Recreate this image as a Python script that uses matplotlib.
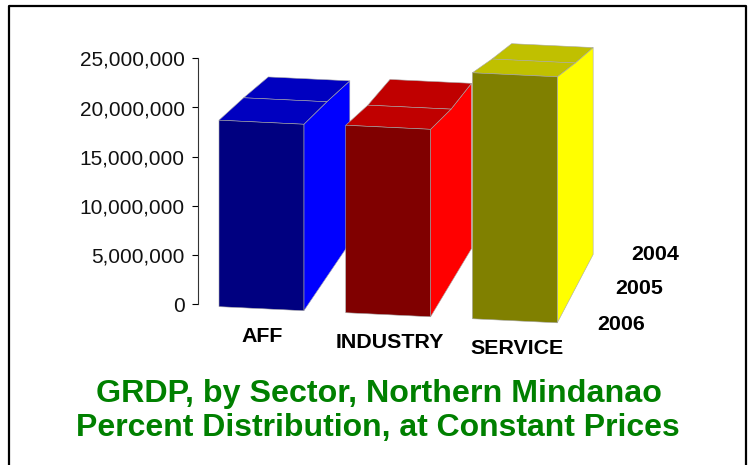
#!/usr/bin/env python3
import matplotlib
matplotlib.use('Agg')
import matplotlib.pyplot as plt
from matplotlib.lines import Line2D
from matplotlib.patches import Polygon
from matplotlib.ticker import FuncFormatter

plt.rcParams['font.family'] = ['Liberation Sans', 'DejaVu Sans']

# values in millions
sectors = ['AFF', 'INDUSTRY', 'SERVICE']
years = ['2004', '2005', '2006']
grdp_2004 = [17.15, 17.5, 21.9]
grdp_2005 = [18.15, 18.0, 23.4]
grdp_2006 = [18.95, 19.05, 25.0]
yticks = [0, 5, 10, 15, 20, 25]

front_colors = ['#000080', '#800000', '#808000']
side_colors = ['#0000ff', '#ff0000', '#ffff00']
top_colors = ['#0000c0', '#c00000', '#c0c000']
EDGE = '#a8a8a8'

W, H = 752, 465
BAR_W = 0.67
# depth goes toward a vanishing point, in axis units
VP_X, VP_V = 9.8, 173.0
SHRINK = 0.0397


def base(x):
    # the front row's floor runs slightly downhill to the right
    return -0.24 - 0.615 * x


def project(x, value, depth):
    f = SHRINK * depth
    y = base(x) + value
    return x + (VP_X - x) * f, y + (VP_V - y) * f


def add_face(ax, pts, color):
    ax.add_patch(Polygon(pts, closed=True, facecolor=color, edgecolor=EDGE,
                         linewidth=0.4, joinstyle='round', clip_on=False))


def draw_bar(ax, i):
    x0, x1 = i, i + BAR_W
    depths = [0, 0.5, 1]
    vals = [grdp_2006[i], grdp_2005[i], grdp_2004[i]]

    # side first, top next, front last
    side = [project(x1, 0, 0)]
    side += [project(x1, v, d) for v, d in zip(vals, depths)]
    side.append(project(x1, 0, 1))
    add_face(ax, side, side_colors[i])

    for k in [1, 0]:
        add_face(ax, [project(x0, vals[k], depths[k]), project(x1, vals[k], depths[k]),
                      project(x1, vals[k + 1], depths[k + 1]), project(x0, vals[k + 1], depths[k + 1])],
                 top_colors[i])

    add_face(ax, [project(x0, 0, 0), project(x1, 0, 0),
                  project(x1, vals[0], 0), project(x0, vals[0], 0)], front_colors[i])


def px_text(fig, x, y, s, **kw):
    fig.text(x / W, 1 - y / H, s, ha='center', va='center', **kw)


def main():
    fig = plt.figure(figsize=(W / 100, H / 100), dpi=100, facecolor='white')

    # axes: left spine is the value axis, x unit is one bar pitch (126.7 px)
    left, right, top, bottom = 198, 198 + 3 * 126.7, 58.3, 304.3
    ax = fig.add_axes([left / W, 1 - bottom / H, (right - left) / W, (bottom - top) / H])
    ax.set_facecolor('none')
    ax.set_xlim(-21 / 126.7, 3 - 21 / 126.7)
    ax.set_ylim(0, 25)
    ax.set_xticks([])
    ax.set_yticks(yticks)
    ax.yaxis.set_major_formatter(FuncFormatter(lambda v, _: f'{int(v * 1000000):,}'))
    ax.tick_params(axis='y', labelsize=15, length=4.5, width=0.8, pad=5, labelcolor='#111111')
    for s in ['top', 'right', 'bottom']:
        ax.spines[s].set_visible(False)
    ax.spines['left'].set_color('#333333')
    ax.spines['left'].set_linewidth(0.8)

    for i in range(len(sectors)):
        draw_bar(ax, i)

    for name, x, y in zip(sectors, [262, 390, 517], [337, 342, 348]):
        px_text(fig, x, y, name, fontsize=15.4, fontweight='bold', color='black')
    for year, x, y in zip(years, [655.5, 639.5, 621.5], [254, 289, 324]):
        px_text(fig, x, y, year, fontsize=15.4, fontweight='bold', color='black')

    px_text(fig, 378.5, 394, 'GRDP, by Sector, Northern Mindanao', fontsize=23.2,
            fontweight='bold', color='#008000')
    px_text(fig, 378, 428, 'Percent Distribution, at Constant Prices', fontsize=23,
            fontweight='bold', color='#008000')

    # slide frame: no bottom edge
    frame_x = [9 / W, 9 / W, 745.5 / W, 745.5 / W]
    frame_y = [0, 1 - 6.5 / H, 1 - 6.5 / H, 0]
    fig.add_artist(Line2D(frame_x, frame_y, color='black', linewidth=1.6))

    fig.savefig('out.png', dpi=100)


if __name__ == '__main__':
    main()
